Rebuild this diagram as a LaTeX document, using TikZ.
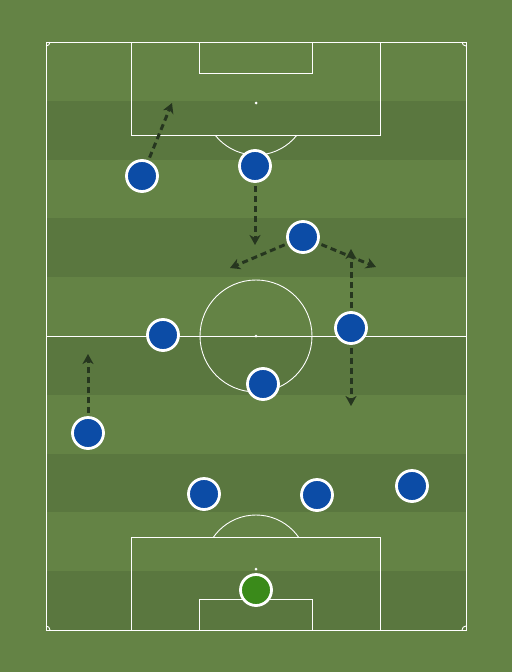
\documentclass[tikz,border=0pt]{standalone}
\usepackage{tikz}
\usetikzlibrary{arrows.meta,calc}
\definecolor{grasslight}{RGB}{100,131,69}
\definecolor{grassdark}{RGB}{90,119,63}
\definecolor{shirt}{RGB}{12,76,166}
\definecolor{keeper}{RGB}{58,138,26}
\definecolor{runline}{RGB}{38,54,31}
\tikzset{
  pitchline/.style={draw=white,line width=0.9pt},
  player/.style={circle,fill=shirt,draw=white,line width=2.8pt,minimum size=31pt,inner sep=0pt},
  goalie/.style={player,fill=keeper},
  run/.style={draw=runline,line width=3pt,dash pattern=on 6pt off 4pt,
    -{Stealth[length=10pt,width=11pt,inset=3pt]},shorten <=3pt}
}
\newcommand \mydrawhalf[2]
{
\draw[pitchline] (131,#1) rectangle (380,#1+#2*93);
\draw[pitchline] (199,#1) rectangle (312,#1+#2*31);
\fill[white] (256,#1+#2*61) circle (1.5pt);
}
\begin{document}
\begin{tikzpicture}[x=1pt,y=-1pt]
\useasboundingbox (0,0) rectangle (512,672);
\fill[grasslight] (0,0) rectangle (512,672);
% stripes
\foreach \i in {1,3,5,7,9}
  \fill[grassdark] (46,{42+\i*58.8}) rectangle (466,{42+(\i+1)*58.8});
% markings
\draw[pitchline] (46,42) rectangle (466,630);
\draw[pitchline] (46,336) -- (466,336);
\draw[pitchline] (256,336) circle (56);
\fill[white] (256,336) circle (1.5pt);
\mydrawhalf{42}{1}
\mydrawhalf{630}{-1}
\begin{scope}
\clip (0,135) rectangle (512,200);
\draw[pitchline] (256,103) circle (52);
\end{scope}
\begin{scope}
\clip (0,470) rectangle (512,536);
\draw[pitchline] (256,567) circle (52);
\end{scope}
\draw[pitchline] (50,42) arc (0:90:4);
\draw[pitchline] (462,42) arc (180:90:4);
\draw[pitchline] (50,630) arc (0:-90:4);
\draw[pitchline] (462,630) arc (180:270:4);
% players
\node[player] (lw)  at (142,176) {};
\node[player] (st)  at (255,166) {};
\node[player] (am)  at (303,237) {};
\node[player] (lm)  at (163,335) {};
\node[player] (rm)  at (351,328) {};
\node[player] (cm)  at (263,384) {};
\node[player] (lb)  at (88,433)  {};
\node[player] (lcb) at (204,494) {};
\node[player] (rcb) at (317,495) {};
\node[player] (rb)  at (412,486) {};
\node[goalie] (gk)  at (256,590) {};
% runs
\coordinate (lwrun)  at (172,103);
\coordinate (strun)  at (255,245);
\coordinate (amleft) at (230,268);
\coordinate (amright) at (376,267);
\coordinate (rmup)   at (351,249);
\coordinate (rmdown) at (351,406);
\coordinate (lbrun)  at (88,354);
\draw[run] (lw) -- (lwrun);
\draw[run] (st) -- (strun);
\draw[run] (am) -- (amleft);
\draw[run] (am) -- (amright);
\draw[run] (rm) -- (rmup);
\draw[run] (rm) -- (rmdown);
\draw[run] (lb) -- (lbrun);
\end{tikzpicture}
\end{document}
